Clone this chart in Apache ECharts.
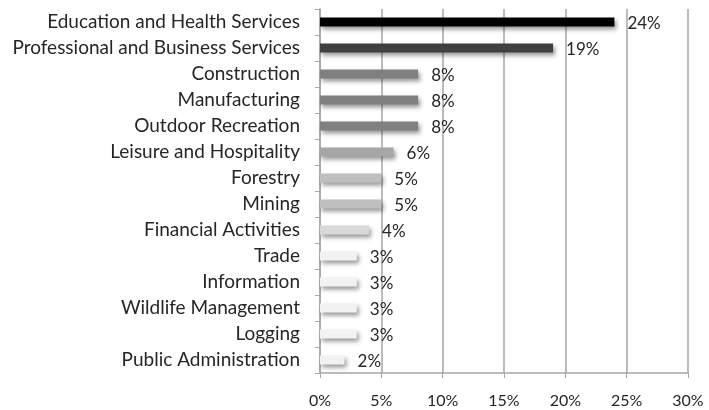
<!DOCTYPE html>
<html>
<head>
<meta charset="utf-8">
<script src="https://cdn.jsdelivr.net/npm/echarts@6/dist/echarts.min.js"></script>
<style>
  html, body { margin: 0; padding: 0; background: #fff; }
  #chart { width: 709px; height: 410px; }
</style>
</head>
<body>
<div id="chart"></div>
<script>
// 行业类别
var categories = [
  'Education and Health Services',
  'Professional and Business Services',
  'Construction',
  'Manufacturing',
  'Outdoor Recreation',
  'Leisure and Hospitality',
  'Forestry',
  'Mining',
  'Financial Activities',
  'Trade',
  'Information',
  'Wildlife Management',
  'Logging',
  'Public Administration'
];
// 百分比
var shares = [24, 19, 8, 8, 8, 6, 5, 5, 4, 3, 3, 3, 3, 2];
// x轴刻度
var xTicks = [0, 5, 10, 15, 20, 25, 30];

// 每根柱子的灰度
var barColors = ['#000000', '#404040', '#808080', '#808080', '#808080', '#a6a6a6',
  '#bfbfbf', '#bfbfbf', '#d9d9d9', '#f2f2f2', '#f2f2f2', '#f2f2f2', '#f2f2f2', '#f2f2f2'];

var font = 'Lato';
var myChart = echarts.init(document.getElementById('chart'));

var option = {
  animation: false,
  grid: { left: 320, right: 21, top: 9, bottom: 37 },
  xAxis: {
    type: 'value',
    min: xTicks[0],
    max: xTicks[xTicks.length - 1],
    interval: 5,
    axisLine: { show: true, lineStyle: { color: '#a6a6a6', width: 1.5 } },
    axisTick: { show: true, length: 5, lineStyle: { color: '#a6a6a6' } },
    splitLine: { show: true, lineStyle: { color: '#a6a6a6', width: 1.5 } },
    axisLabel: {
      formatter: '{value}%',
      color: '#262626',
      fontFamily: font,
      fontSize: 16,
      margin: 20
    }
  },
  yAxis: {
    type: 'category',
    inverse: true,
    data: categories,
    axisLine: { show: true, lineStyle: { color: '#a6a6a6', width: 1.5 } },
    axisTick: { show: true, length: 5, lineStyle: { color: '#a6a6a6' } },
    axisLabel: {
      color: '#262626',
      fontFamily: font,
      fontSize: 19,
      margin: 20
    }
  },
  series: [{
    type: 'bar',
    barWidth: 9,
    data: shares.map(function (v, i) {
      return { value: v, itemStyle: { color: barColors[i] } };
    }),
    itemStyle: {
      shadowBlur: 4,
      shadowOffsetX: 2,
      shadowOffsetY: 3,
      shadowColor: 'rgba(0,0,0,0.4)'
    },
    label: {
      show: true,
      position: 'right',
      distance: 13,
      offset: [0, 2],
      formatter: '{c}%',
      color: '#262626',
      fontFamily: font,
      fontSize: 17
    }
  }]
};
myChart.setOption(option);
</script>
</body>
</html>
